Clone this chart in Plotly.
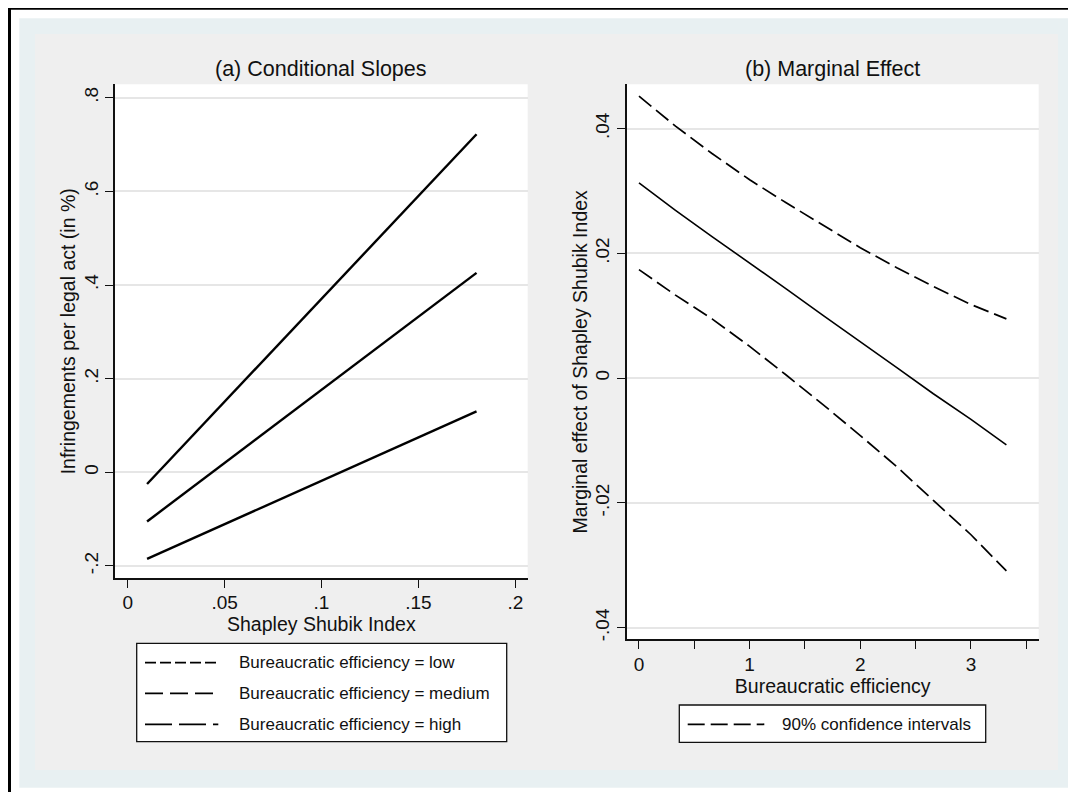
import plotly.graph_objects as go

# ---------------- data ----------------
ssi = [0.01, 0.18]
low = [-0.025, 0.722]
medium = [-0.105, 0.426]
high = [-0.185, 0.130]

be = [0, 0.33, 0.66, 1.0, 1.33, 1.66, 2.0, 2.33, 2.66, 3.0, 3.32]
me = [0.0313, 0.0269, 0.0227, 0.0185, 0.0143, 0.0101, 0.0059, 0.0017, -0.0025, -0.0066, -0.0107]
ci_upper = [0.0452, 0.0404, 0.0360, 0.0318, 0.0281, 0.0245, 0.0209, 0.0177, 0.0147, 0.0118, 0.0095]
ci_lower = [0.0174, 0.0133, 0.0095, 0.0051, 0.0005, -0.0042, -0.0092, -0.0142, -0.0196, -0.0251, -0.0309]

left_xticks = [0, 0.05, 0.1, 0.15, 0.2]
left_xlabels = ["0", ".05", ".1", ".15", ".2"]
left_yticks = [-0.2, 0, 0.2, 0.4, 0.6, 0.8]
left_ylabels = ["-.2", "0", ".2", ".4", ".6", ".8"]
right_xticks = [0, 1, 2, 3]
right_xlabels = ["0", "1", "2", "3"]
right_xminor = [0.5, 1.5, 2.5, 3.5]
right_yticks = [-0.04, -0.02, 0, 0.02, 0.04]
right_ylabels = ["-.04", "-.02", "0", ".02", ".04"]

legend_a = ["Bureaucratic efficiency = low",
            "Bureaucratic efficiency = medium",
            "Bureaucratic efficiency = high"]
legend_b = ["90% confidence intervals"]

# ---------------- geometry helpers (page pixels -> paper) ----------------
OFF = 8  # default page margin around the figure
W, H = 1076 - OFF, 792 - OFF
def px(x):
    return (x - OFF) / W
def py(y):
    return 1 - (y - OFF) / H

FONT = "Liberation Sans, Arial, Helvetica, sans-serif"
BLUISH = "#E8F0F2"
GRAY = "#EFEFEF"
GRID = "#E6E6E6"
INK = "#111111"

fig = go.Figure()

for name, ys in zip(legend_a, [low, medium, high]):
    fig.add_trace(go.Scatter(x=ssi, y=ys, mode="lines", name=name,
                             line=dict(color="black", width=2.4),
                             xaxis="x", yaxis="y", showlegend=False))

fig.add_trace(go.Scatter(x=be, y=me, mode="lines", name="Marginal effect",
                         line=dict(color="black", width=1.6),
                         xaxis="x2", yaxis="y2", showlegend=False))
fig.add_trace(go.Scatter(x=be, y=ci_upper, mode="lines", name=legend_b[0],
                         line=dict(color="black", width=1.7, dash="16px,6px"),
                         xaxis="x2", yaxis="y2", showlegend=False))
fig.add_trace(go.Scatter(x=be, y=ci_lower, mode="lines", name=legend_b[0],
                         line=dict(color="black", width=1.7, dash="16px,6px"),
                         xaxis="x2", yaxis="y2", showlegend=False))

axis_common = dict(showline=True, linecolor=INK, linewidth=1.5,
                   ticks="outside", ticklen=8, tickwidth=1.3, tickcolor=INK,
                   tickfont=dict(family=FONT, size=19, color=INK),
                   zeroline=False, mirror=False, automargin=False)

L_X = [px(115), px(527.7)]
R_X = [px(626.7), px(1038.7)]
L_Y = [py(578.3), py(84.3)]
R_Y = [py(639.3), py(84.3)]

fig.update_layout(
    width=W, height=H, autosize=False,
    margin=dict(l=0, r=0, t=0, b=0),
    paper_bgcolor="white", plot_bgcolor="white",
    showlegend=False,
    font=dict(family=FONT, color=INK),
    xaxis=dict(domain=L_X, anchor="y", range=[-0.00655, 0.2064],
               tickvals=left_xticks, ticktext=left_xlabels, showgrid=False,
               ticklabelstandoff=-2,
               title=dict(text="Shapley Shubik Index",
                          font=dict(family=FONT, size=19.5, color=INK), standoff=0),
               **axis_common),
    yaxis=dict(domain=L_Y, anchor="x", range=[-0.2264, 0.8287],
               tickvals=left_yticks, ticktext=left_ylabels, tickangle=-90,
               showgrid=True, gridcolor=GRID, gridwidth=1.6,
               title=dict(text="Infringements per legal act (in %)",
                          font=dict(family=FONT, size=19.5, color=INK), standoff=0),
               **axis_common),
    xaxis2=dict(domain=R_X, anchor="y2", range=[-0.111, 3.612],
                tickvals=right_xticks, ticktext=right_xlabels, showgrid=False,
                ticklabelstandoff=-1,
                minor=dict(tickvals=right_xminor, ticks="outside", ticklen=8,
                           tickwidth=1.3, tickcolor=INK, showgrid=False),
                title=dict(text="Bureaucratic efficiency",
                           font=dict(family=FONT, size=19.5, color=INK), standoff=0),
                **axis_common),
    yaxis2=dict(domain=R_Y, anchor="x2", range=[-0.04186, 0.0471],
                tickvals=right_yticks, ticktext=right_ylabels, tickangle=-90,
                showgrid=True, gridcolor=GRID, gridwidth=1.6,
                title=dict(text="Marginal effect of Shapley Shubik Index",
                           font=dict(family=FONT, size=19.5, color=INK), standoff=0),
                **axis_common),
)

shapes = []
# background layers
shapes.append(dict(type="rect", xref="paper", yref="paper", layer="below",
                   x0=px(19.3), x1=1.05, y0=py(18.3), y1=py(787.7),
                   fillcolor=BLUISH, line=dict(width=0)))
shapes.append(dict(type="rect", xref="paper", yref="paper", layer="below",
                   x0=px(35), x1=px(1058), y0=py(34), y1=py(770),
                   fillcolor=GRAY, line=dict(width=0)))
for xs, ys in [(L_X, L_Y), (R_X, R_Y)]:
    shapes.append(dict(type="rect", xref="paper", yref="paper", layer="below",
                       x0=xs[0], x1=xs[1], y0=ys[0], y1=ys[1],
                       fillcolor="white", line=dict(width=0)))
# outer black frame (top and left edges)
shapes.append(dict(type="line", xref="paper", yref="paper",
                   x0=px(8), x1=1.05, y0=py(8.3), y1=py(8.3),
                   line=dict(color="black", width=3)))
shapes.append(dict(type="line", xref="paper", yref="paper",
                   x0=px(9.5), x1=px(9.5), y0=py(7), y1=-0.05,
                   line=dict(color="black", width=3)))

# legend (a)
shapes.append(dict(type="rect", xref="paper", yref="paper",
                   x0=px(136.7), x1=px(506.7), y0=py(643.3), y1=py(741.7),
                   fillcolor="white", line=dict(color=INK, width=1.3)))
dashes_a = ["11px,4px", "18px,7px", "27px,7px"]
rows_a = [662.7, 693.3, 724.3]
annotations = []
for lab, d, yy in zip(legend_a, dashes_a, rows_a):
    shapes.append(dict(type="line", xref="paper", yref="paper",
                       x0=px(145), x1=px(218.3), y0=py(yy), y1=py(yy),
                       line=dict(color="black", width=1.8, dash=d)))
    annotations.append(dict(text=lab, xref="paper", yref="paper",
                            x=px(236.7), y=py(yy), xanchor="left", yanchor="middle",
                            showarrow=False, font=dict(family=FONT, size=17, color=INK)))

# legend (b)
shapes.append(dict(type="rect", xref="paper", yref="paper",
                   x0=px(679.3), x1=px(985.7), y0=py(705), y1=py(742.3),
                   fillcolor="white", line=dict(color=INK, width=1.3)))
shapes.append(dict(type="line", xref="paper", yref="paper",
                   x0=px(687.7), x1=px(764.3), y0=py(724.3), y1=py(724.3),
                   line=dict(color="black", width=1.8, dash="17px,6px")))
annotations.append(dict(text=legend_b[0], xref="paper", yref="paper",
                        x=px(780), y=py(724.3), xanchor="left", yanchor="middle",
                        showarrow=False, font=dict(family=FONT, size=17, color=INK)))

# subplot titles
annotations.append(dict(text="(a) Conditional Slopes", xref="paper", yref="paper",
                        x=(L_X[0] + L_X[1]) / 2, y=py(69), xanchor="center", yanchor="middle",
                        showarrow=False, font=dict(family=FONT, size=21.5, color=INK)))
annotations.append(dict(text="(b) Marginal Effect", xref="paper", yref="paper",
                        x=(R_X[0] + R_X[1]) / 2, y=py(69), xanchor="center", yanchor="middle",
                        showarrow=False, font=dict(family=FONT, size=21.5, color=INK)))

fig.update_layout(shapes=shapes, annotations=annotations)
fig.write_html("out.html")
